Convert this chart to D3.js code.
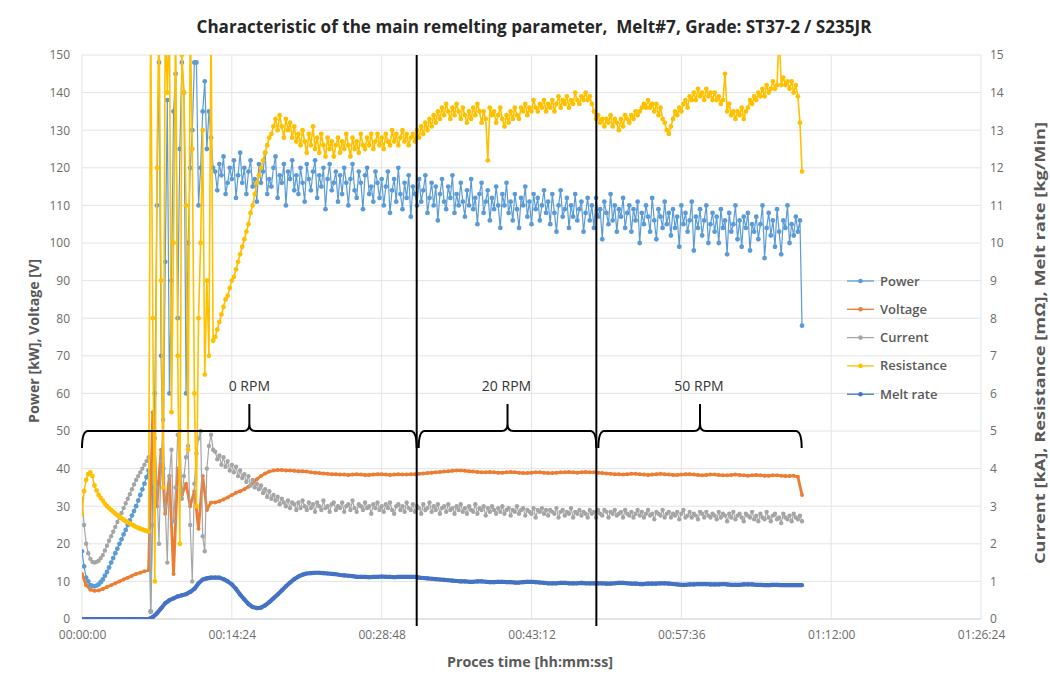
<!DOCTYPE html>
<html>
<head>
<meta charset="utf-8">
<script src="https://cdn.jsdelivr.net/npm/d3@7"></script>
<style>
  body { margin: 0; background: #fff; }
  text { font-family: 'Open Sans', 'Liberation Sans', sans-serif; }
</style>
</head>
<body>
<div id="chart"></div>
<script>
// Power, Current and Resistance are logged every 12 s, Voltage and Melt rate every 24 s
const fastStep = 12;
const slowStep = 24;

// Power [kW]  (12 s samples)
const power = [
  18,14,11,10,9,8.8,8.7,8.9,9.2,9.8,10.5,11.5,12.5,13.7,15,16.2,17.5,18.7,20,21.2,
  22.5,23.7,25,26.2,27.5,28.7,30,31.5,33,34.5,36,37.7,39.5,
  2,35,60,110,148,70,40,95,138,60,90,135,145,80,125,148,140,60,100,120,
  130,148,148,110,120,135,143,125,135,128,120,
  119,114,121,118,123,113,116,120,117,122,112,118,124,116,120,113,119,122,115,117,
  111,121,116,119,124,113,117,115,120,123,112,118,116,121,110,119,117,122,114,118,
  113,120,116,111,121,117,114,119,122,112,118,115,120,109,117,121,114,116,119,111,
  118,113,120,116,110,117,121,114,112,119,116,109,118,120,113,115,111,119,116,112,
  117,110,115,119,108,114,117,111,120,113,109,116,112,118,107,115,113,110,117,111,
  114,118,108,112,116,110,115,106,113,117,111,109,115,112,118,108,113,110,116,111,
  107,114,110,117,109,112,105,113,116,108,111,114,106,112,109,115,110,104,113,110,
  116,108,111,106,113,109,104,112,110,115,107,111,105,113,109,112,106,110,114,108,
  111,105,113,108,103,110,114,107,109,112,104,110,107,113,106,109,111,103,108,112,
  106,110,104,112,107,109,101,111,108,105,113,106,110,103,109,107,112,104,108,110,
  103,109,106,111,100,108,105,110,107,103,112,106,101,109,107,104,111,105,108,102,
  109,104,107,99,110,105,108,103,106,111,98,107,104,109,102,106,110,100,105,108,
  103,107,100,109,104,106,97,108,103,105,110,101,106,99,107,104,108,98,105,103,
  107,101,105,110,96,104,108,102,106,99,109,103,97,106,104,110,100,105,102,107,
  103,106,78
];

// Voltage [V]  (24 s samples)
const voltage = [
  12,9,7.8,7.5,7.6,8,8.5,9,9.5,10,10.5,11,11.5,12,12.3,12.7,13,
  55,30,45,28,38,12,40,33,36,30,34,24,38,29,31,
  31,31.3,31.8,32.3,33,33.6,34,34.5,35.2,36.2,37.2,38,38.7,39.2,39.5,39.6,39.6,39.5,39.5,
  39.4,39.3,39.3,39.2,39.0,38.9,38.8,38.7,38.6,38.5,
  38.5,38.4,38.4,38.3,38.4,38.5,38.4,38.3,38.3,38.4,38.5,38.5,38.4,38.3,38.4,38.5,38.4,38.4,38.5,38.5,
  38.6,38.7,38.8,38.9,39.0,39.1,39.2,39.3,39.4,39.5,39.5,39.4,39.3,39.2,39.1,39.0,39.0,39.1,39.0,38.9,
  38.9,39.0,39.1,39.0,38.9,38.8,38.8,38.9,39.0,39.0,38.9,38.8,38.8,38.9,39.0,39.0,39.1,39.0,38.9,39.0,39.1,39.0,39.0,
  38.9,38.8,38.7,38.6,38.5,38.5,38.4,38.5,38.6,38.6,38.5,38.4,38.3,38.4,38.5,38.6,38.5,38.4,38.3,38.3,
  38.4,38.5,38.5,38.4,38.3,38.2,38.3,38.4,38.4,38.3,38.2,38.2,38.3,38.4,38.3,38.2,38.1,38.2,38.3,38.2,
  38.1,38.1,38.2,38.2,38.1,38.0,38.0,38.1,37.8,33
];

// Current [kA]  (12 s samples)
const current = [
  3.2,2.5,2.0,1.75,1.6,1.52,1.5,1.52,1.55,1.62,1.7,1.82,1.95,2.08,2.2,2.32,2.45,2.58,2.7,2.82,
  2.95,3.08,3.2,3.32,3.45,3.58,3.7,3.8,3.9,4.0,4.1,4.2,4.3,
  0.2,2.5,4.8,3.5,2.0,4.2,5.3,3.0,1.5,3.8,4.5,2.6,3.5,4.9,5.0,3.2,3.8,4.3,4.6,2.5,
  1.0,3.6,4.4,4.8,5.0,2.2,1.8,4.0,4.6,4.9,4.5,
  4.45,4.25,4.35,4.1,4.3,4.05,4.2,3.95,4.1,3.9,4.05,3.8,3.95,3.75,3.85,3.65,3.8,3.55,3.7,3.5,
  3.6,3.45,3.55,3.35,3.45,3.25,3.4,3.2,3.3,3.15,3.25,3.05,3.2,3.1,3.0,3.15,2.95,3.1,3.05,2.9,
  3.1,2.95,3.15,3.0,2.9,3.1,2.95,3.05,2.85,3.1,3.0,2.9,3.15,2.95,3.0,2.85,3.05,3.1,2.9,3.0,
  2.95,3.1,2.85,3.0,3.05,2.9,3.15,2.95,2.85,3.05,3.0,2.9,3.1,2.95,3.0,2.8,3.05,2.95,3.1,2.9,
  3.0,2.85,3.05,2.95,3.1,2.9,2.8,3.0,3.05,2.9,3.0,2.85,3.1,2.95,2.9,3.05,2.85,3.0,2.95,2.8,
  3.05,2.9,2.95,3.1,2.85,3.0,2.9,3.05,2.8,2.95,3.0,2.85,3.05,2.9,2.95,2.8,3.0,2.9,3.05,2.85,
  2.95,2.8,3.0,2.9,2.85,3.05,2.8,2.95,2.9,3.0,2.75,2.95,2.85,3.0,2.9,2.8,2.95,2.85,3.0,2.8,
  2.9,2.95,2.75,2.9,2.85,3.0,2.8,2.9,2.95,2.75,2.9,2.85,2.8,2.95,2.7,2.9,2.85,2.95,2.8,2.9,
  2.75,2.9,2.85,2.8,2.95,2.7,2.85,2.9,2.75,2.85,2.8,2.95,2.7,2.85,2.8,2.9,2.75,2.85,2.8,2.7,
  2.9,2.8,2.85,2.7,2.9,2.8,2.75,2.9,2.85,2.7,2.85,2.8,2.9,2.75,2.8,2.85,2.7,2.9,2.8,2.75,
  2.85,2.7,2.8,2.9,2.75,2.85,2.7,2.8,2.9,2.75,2.8,2.65,2.85,2.8,2.75,2.9,2.7,2.8,2.85,2.7,
  2.8,2.75,2.85,2.65,2.8,2.9,2.7,2.75,2.85,2.7,2.8,2.75,2.65,2.85,2.8,2.7,2.85,2.75,2.7,2.8,
  2.75,2.65,2.85,2.7,2.8,2.75,2.6,2.8,2.7,2.85,2.65,2.75,2.8,2.7,2.6,2.8,2.75,2.7,2.85,2.65,
  2.75,2.6,2.8,2.7,2.65,2.85,2.7,2.6,2.75,2.8,2.65,2.7,2.55,2.8,2.7,2.65,2.75,2.6,2.8,2.7,
  2.65,2.75,2.6
];

// Resistance [mOhm]  (12 s samples)
const resistance = [
  2.8,3.4,3.7,3.85,3.9,3.8,3.55,3.42,3.3,3.22,3.15,3.07,3.0,2.95,2.9,2.85,2.8,2.76,2.72,2.68,
  2.64,2.6,2.57,2.54,2.51,2.48,2.45,2.42,2.4,2.38,2.36,2.34,2.33,
  16,8,1.0,12,16,9,3.5,16,14,16,5.5,10,16,7,2.0,15,14,11,4.5,16,
  12.5,6,3.0,8,10,13,6.5,9,7.0,16,7.4,
  7.5,7.7,7.9,8.1,8.3,8.5,8.6,8.8,9.0,9.1,9.3,9.5,9.7,9.9,10.1,10.3,10.5,10.8,11.0,11.3,
  11.6,11.8,12.0,12.2,12.4,12.6,12.8,12.9,13.1,13.3,13.0,13.4,13.1,12.8,13.3,13.0,13.2,12.8,13.1,12.7,
  12.9,12.6,13.0,12.7,12.4,12.9,12.6,13.1,12.5,12.8,12.4,12.9,12.6,12.3,12.8,12.5,12.7,12.3,12.6,12.8,
  12.4,12.7,12.5,12.9,12.6,12.3,12.8,12.5,12.7,12.4,12.9,12.6,12.5,12.8,12.6,12.9,12.5,12.7,12.9,12.6,
  12.8,12.5,12.9,12.7,12.6,13.0,12.7,12.9,12.6,12.8,13.0,12.7,12.9,12.6,12.8,12.9,12.7,13.0,12.8,13.1,
  12.9,13.2,13.0,13.3,13.1,13.4,13.2,13.5,13.3,13.6,13.4,13.7,13.5,13.3,13.6,13.4,13.7,13.5,13.3,13.6,
  13.4,13.2,13.5,13.3,13.6,13.4,13.7,13.5,13.2,13.5,13.3,12.2,13.6,13.4,13.5,13.2,13.4,13.6,13.3,13.1,
  13.4,13.2,13.5,13.3,13.6,13.4,13.3,13.6,13.5,13.7,13.4,13.6,13.5,13.8,13.6,13.5,13.7,13.6,13.8,13.5,
  13.7,13.6,13.8,13.5,13.7,13.9,13.6,13.8,13.7,13.9,13.6,13.8,13.7,14.0,13.8,13.7,13.9,13.8,14.0,13.8,
  13.9,13.7,13.5,13.3,13.4,13.2,13.3,13.1,13.3,13.2,13.4,13.1,13.3,13.2,13.0,13.3,13.1,13.4,13.3,13.2,
  13.4,13.3,13.5,13.4,13.5,13.6,13.7,13.6,13.8,13.6,13.7,13.5,13.7,13.4,13.6,13.3,13.2,13.0,12.9,13.1,
  13.3,13.5,13.4,13.6,13.5,13.7,13.8,13.6,13.9,13.8,14.0,13.8,14.1,13.9,14.0,13.8,14.1,13.9,14.0,13.8,
  14.0,13.8,13.9,13.7,13.8,14.5,13.5,13.7,13.4,13.5,13.3,13.5,13.4,13.6,13.3,13.5,13.6,13.8,13.7,13.9,
  13.8,14.0,13.9,14.1,13.9,14.2,14.0,14.1,14.3,14.1,14.2,15.6,14.2,14.4,14.2,14.3,14.1,14.3,14.0,14.2,
  13.9,13.2,11.9
];

// Melt rate [kg/min]  (24 s samples)
const meltRate = [
  0,0,0,0,0,0,0,0,0,0,0,0,0,0,0,0,0,
  0.05,0.15,0.28,0.42,0.5,0.55,0.6,0.63,0.66,0.72,0.8,0.95,1.05,1.08,1.1,
  1.1,1.1,1.06,1.0,0.92,0.8,0.65,0.52,0.4,0.32,0.29,0.3,0.36,0.45,0.55,0.65,0.76,0.87,0.97,1.06,
  1.13,1.18,1.21,1.22,1.23,1.23,1.22,1.21,1.2,1.19,1.17,1.16,1.15,1.14,
  1.12,1.12,1.12,1.11,1.12,1.12,1.13,1.12,1.12,1.11,1.12,1.12,1.12,1.12,1.12,
  1.1,1.09,1.08,1.07,1.06,1.05,1.04,1.03,1.02,1.01,1.0,1.0,0.99,0.99,1.0,1.0,0.99,0.98,0.98,0.99,
  0.99,0.98,0.98,0.97,0.97,0.98,0.99,0.99,0.98,0.97,0.96,0.95,0.95,0.95,0.96,0.96,0.95,0.95,0.95,0.96,
  0.95,0.95,0.95,
  0.95,0.95,0.94,0.94,0.95,0.96,0.96,0.95,0.94,0.94,0.93,0.93,0.94,0.94,0.94,0.95,0.95,0.94,0.93,0.92,
  0.91,0.91,0.92,0.92,0.93,0.93,0.93,0.92,0.92,0.92,0.93,0.92,0.91,0.91,0.91,0.92,0.92,0.92,0.91,0.91,
  0.9,0.9,0.91,0.91,0.9,0.9,0.9,0.9,0.9,0.9
];

const leftTicks = [0,10,20,30,40,50,60,70,80,90,100,110,120,130,140,150];
const rightTicks = [0,1,2,3,4,5,6,7,8,9,10,11,12,13,14,15];
const timeTicks = [0, 864, 1728, 2592, 3456, 4320, 5184];   // every 00:14:24

// stirring speed changes (seconds) and the phase labels
const rpmChanges = [1930, 2966];
const rpmPhases = [
  {label: '0 RPM',  start: 0,    end: 1930},
  {label: '20 RPM', start: 1930, end: 2966},
  {label: '50 RPM', start: 2966, end: 4150}
];

const width = 1050, height = 679;
const margin = {top: 55, right: 69, bottom: 60, left: 82};

const svg = d3.select('#chart')
  .append('svg')
  .attr('width', width)
  .attr('height', height)
  .style('background-color', '#fff');

const x = d3.scaleLinear().domain([0, 5184]).range([margin.left, width - margin.right]);
const yLeft = d3.scaleLinear().domain([0, 150]).range([height - margin.bottom, margin.top]);
const yRight = d3.scaleLinear().domain([0, 15]).range([height - margin.bottom, margin.top]);
const fmtTime = t => d3.utcFormat('%H:%M:%S')(new Date(t * 1000));

// squeeze text to the width it has in the picture (Calibri is narrower)
const fitText = (sel, w) => sel.attr('textLength', w).attr('lengthAdjust', 'spacingAndGlyphs');

// gridlines
svg.append('g')
  .selectAll('line')
  .data(leftTicks)
  .enter().append('line')
  .attr('x1', x(0)).attr('x2', x(5184))
  .attr('y1', d => yLeft(d)).attr('y2', d => yLeft(d))
  .attr('stroke', d => d === 0 ? '#c8c8c8' : '#e3e3e3')
  .attr('stroke-width', 1);
svg.append('g')
  .selectAll('line')
  .data(timeTicks)
  .enter().append('line')
  .attr('x1', d => x(d)).attr('x2', d => x(d))
  .attr('y1', yLeft(0)).attr('y2', yLeft(150))
  .attr('stroke', '#e3e3e3')
  .attr('stroke-width', 1);

// axes (labels only, Excel style)
const styleAxis = g => {
  g.select('.domain').remove();
  g.selectAll('text')
    .attr('fill', '#6b6b6b')
    .style('font-size', '12px');
};
svg.append('g')
  .attr('transform', `translate(${margin.left}, 0)`)
  .call(d3.axisLeft(yLeft).tickValues(leftTicks).tickSize(0).tickPadding(12))
  .call(styleAxis);
svg.append('g')
  .attr('transform', `translate(${width - margin.right}, 0)`)
  .call(d3.axisRight(yRight).tickValues(rightTicks).tickSize(0).tickPadding(9))
  .call(styleAxis);
svg.append('g')
  .attr('transform', `translate(0, ${height - margin.bottom})`)
  .call(d3.axisBottom(x).tickValues(timeTicks).tickFormat(fmtTime).tickSize(0).tickPadding(11))
  .call(styleAxis);

// clip the series to the plot area
svg.append('clipPath').attr('id', 'plot-clip')
  .append('rect')
  .attr('x', margin.left).attr('y', margin.top)
  .attr('width', width - margin.left - margin.right)
  .attr('height', height - margin.top - margin.bottom);

const series = [
  {name: 'Power',      values: power,      step: fastStep, scale: yLeft,  color: '#5B9BD5', lw: 1.2, r: 2.4},
  {name: 'Voltage',    values: voltage,    step: slowStep, scale: yLeft,  color: '#ED7D31', lw: 2.8, r: 2.0},
  {name: 'Current',    values: current,    step: fastStep, scale: yRight, color: '#A5A5A5', lw: 1.2, r: 2.2},
  {name: 'Resistance', values: resistance, step: fastStep, scale: yRight, color: '#FFC000', lw: 1.6, r: 2.4},
  {name: 'Melt rate',  values: meltRate,   step: slowStep, scale: yRight, color: '#4472C4', lw: 4.2, r: 2.1}
];

const plot = svg.append('g').attr('clip-path', 'url(#plot-clip)');
series.forEach(s => {
  const line = d3.line()
    .x((d, i) => x(i * s.step))
    .y(d => s.scale(d));
  const g = plot.append('g');
  g.append('path')
    .datum(s.values)
    .attr('d', line)
    .attr('fill', 'none')
    .attr('stroke', s.color)
    .attr('stroke-width', s.lw)
    .attr('stroke-linejoin', 'round');
  g.selectAll('circle')
    .data(s.values)
    .enter().append('circle')
    .attr('cx', (d, i) => x(i * s.step))
    .attr('cy', d => s.scale(d))
    .attr('r', s.r)
    .attr('fill', s.color);
});

// rpm change markers
svg.append('g')
  .selectAll('line')
  .data(rpmChanges)
  .enter().append('line')
  .attr('x1', d => x(d)).attr('x2', d => x(d))
  .attr('y1', yLeft(150)).attr('y2', yLeft(0) + 7)
  .attr('stroke', '#000')
  .attr('stroke-width', 2);

// curly braces for each phase
const bracePath = (x0, x1, y) => {
  const xm = (x0 + x1) / 2;
  return `M${x0},${y + 17} Q${x0},${y} ${x0 + 6},${y} L${xm - 6},${y} Q${xm},${y} ${xm},${y - 7}` +
    ` L${xm},${y - 27} M${xm},${y - 7} Q${xm},${y} ${xm + 6},${y} L${x1 - 6},${y} Q${x1},${y} ${x1},${y + 17}`;
};
const braces = svg.append('g');
braces.selectAll('path')
  .data(rpmPhases)
  .enter().append('path')
  .attr('d', d => bracePath(x(d.start) + (d.start ? 2 : 0), x(d.end), yLeft(50)))
  .attr('fill', 'none')
  .attr('stroke', '#000')
  .attr('stroke-width', 2);
braces.selectAll('text')
  .data(rpmPhases)
  .enter().append('text')
  .attr('x', d => x((d.start + d.end) / 2))
  .attr('y', yLeft(62))
  .attr('dy', '0.35em')
  .attr('text-anchor', 'middle')
  .attr('fill', '#333')
  .style('font-size', '14px')
  .text(d => d.label);

// legend
const legend = svg.append('g').attr('transform', 'translate(847, 281)');
const item = legend.selectAll('g')
  .data(series)
  .enter().append('g')
  .attr('transform', (d, i) => `translate(0, ${i * 28.3})`);
item.append('line')
  .attr('x1', 0).attr('x2', 27).attr('y1', 0).attr('y2', 0)
  .attr('stroke', d => d.color).attr('stroke-width', 1.3);
item.append('circle')
  .attr('cx', 13.5).attr('cy', 0).attr('r', 2.3)
  .attr('fill', d => d.color);
item.append('text')
  .attr('x', 33).attr('dy', '0.35em')
  .attr('fill', '#595959')
  .style('font-size', '13px')
  .style('font-weight', 600)
  .text(d => d.name);

// title and axis titles
svg.append('text')
  .attr('x', 534).attr('y', 33)
  .attr('text-anchor', 'middle')
  .attr('fill', '#262626')
  .style('font-size', '17px')
  .style('font-weight', 700)
  .style('white-space', 'pre')
  .text('Characteristic of the main remelting parameter,  Melt#7, Grade: ST37-2 / S235JR')
  .call(fitText, 675);
svg.append('text')
  .attr('x', 530).attr('y', 667)
  .attr('text-anchor', 'middle')
  .attr('fill', '#595959')
  .style('font-size', '15px')
  .style('font-weight', 700)
  .text('Proces time [hh:mm:ss]')
  .call(fitText, 166);
svg.append('text')
  .attr('transform', 'translate(34, 341) rotate(-90)')
  .attr('dy', '0.35em')
  .attr('text-anchor', 'middle')
  .attr('fill', '#595959')
  .style('font-size', '15px')
  .style('font-weight', 700)
  .text('Power [kW], Voltage [V]')
  .call(fitText, 164);
svg.append('text')
  .attr('transform', 'translate(1040, 343) rotate(-90)')
  .attr('dy', '0.35em')
  .attr('text-anchor', 'middle')
  .attr('fill', '#595959')
  .style('font-size', '15px')
  .style('font-weight', 700)
  .text('Current [kA], Resistance [mΩ], Melt rate [kg/Min]')
  .call(fitText, 442);
</script>
</body>
</html>
